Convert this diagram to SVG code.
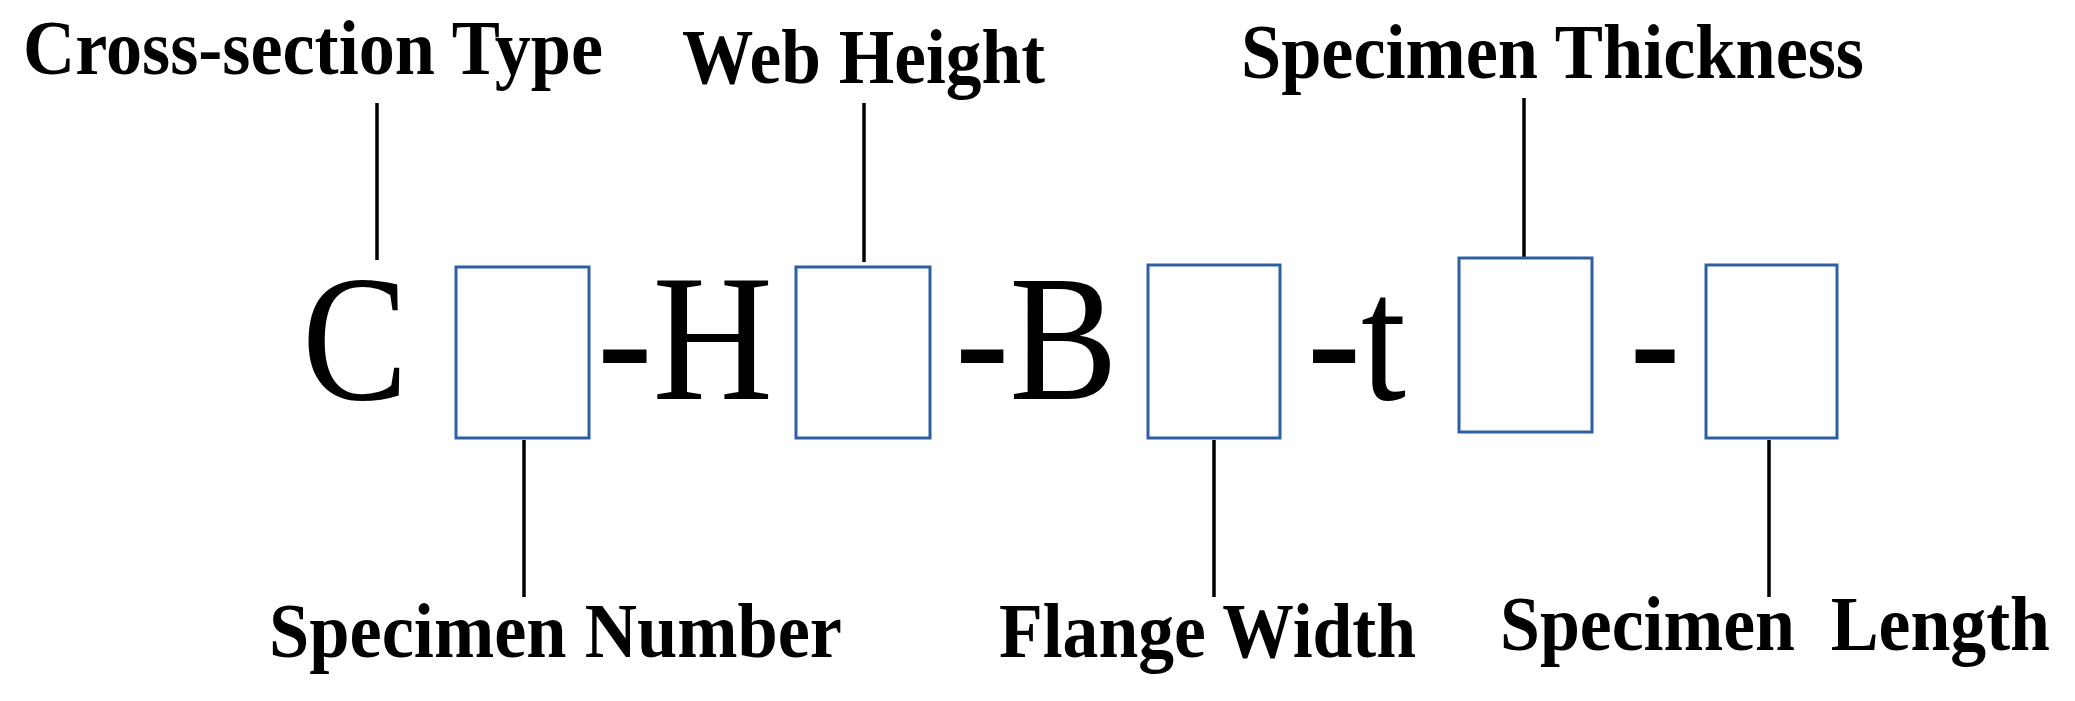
<svg xmlns="http://www.w3.org/2000/svg" width="2075" height="701" viewBox="0 0 2075 701">
<style>
.lbl{font-family:"Liberation Serif","Times New Roman",serif;font-weight:bold;font-size:78px;fill:#000}
.big{font-family:"Liberation Serif","Times New Roman",serif;font-size:180px;fill:#000}
.box{fill:#fff;stroke:#2e5fa3;stroke-width:3}
.ln{stroke:#000;stroke-width:3.5;fill:none}
</style>
<rect width="2075" height="701" fill="#fff"/>
<g id="connectors">
<line class="ln" x1="377" y1="103" x2="377" y2="260"/>
<line class="ln" x1="864" y1="103" x2="864" y2="262"/>
<line class="ln" x1="1524" y1="98" x2="1524" y2="257"/>
<line class="ln" x1="524" y1="440" x2="524" y2="597"/>
<line class="ln" x1="1214" y1="440" x2="1214" y2="597"/>
<line class="ln" x1="1769" y1="440" x2="1769" y2="597"/>
</g>
<g id="code">
<text class="big" x="302" y="399" textLength="106" lengthAdjust="spacingAndGlyphs">C</text>
<text class="big" x="597" y="399" textLength="176" lengthAdjust="spacingAndGlyphs">-H</text>
<text class="big" x="955" y="399" textLength="163" lengthAdjust="spacingAndGlyphs">-B</text>
<text class="big" x="1307" y="399" textLength="99" lengthAdjust="spacingAndGlyphs">-t</text>
<text class="big" x="1630" y="399" textLength="50" lengthAdjust="spacingAndGlyphs">-</text>
</g>
<g id="box1"><rect class="box" x="456" y="267" width="133" height="171"/></g>
<g id="box2"><rect class="box" x="796" y="267" width="134" height="171"/></g>
<g id="box3"><rect class="box" x="1148" y="265" width="132" height="173"/></g>
<g id="box4"><rect class="box" x="1459" y="258" width="133" height="174"/></g>
<g id="box5"><rect class="box" x="1706" y="265" width="131" height="173"/></g>
<g id="labels">
<text class="lbl" x="23" y="74" textLength="580" lengthAdjust="spacingAndGlyphs">Cross-section Type</text>
<text class="lbl" x="682" y="83" textLength="363" lengthAdjust="spacingAndGlyphs">Web Height</text>
<text class="lbl" x="1241" y="78" textLength="623" lengthAdjust="spacingAndGlyphs">Specimen Thickness</text>
<text class="lbl" x="269" y="657" textLength="573" lengthAdjust="spacingAndGlyphs">Specimen Number</text>
<text class="lbl" x="999" y="657" textLength="417" lengthAdjust="spacingAndGlyphs">Flange Width</text>
<text class="lbl" x="1500" y="650" textLength="550" lengthAdjust="spacingAndGlyphs" xml:space="preserve">Specimen  Length</text>
</g>
</svg>
